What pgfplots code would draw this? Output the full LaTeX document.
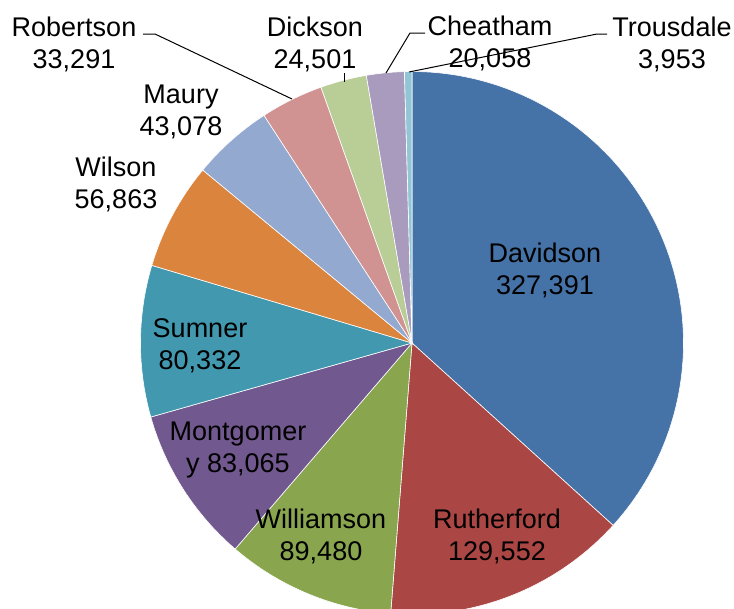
\documentclass[border=0pt]{standalone}
\usepackage{pgfplots}
\pgfplotsset{compat=1.18}
\usepackage{fontspec}
\setmainfont{Liberation Sans}
% data (population by county)
\def\vDav{327391}
\def\vRut{129552}
\def\vWil{89480}
\def\vMon{83065}
\def\vSum{80332}
\def\vWls{56863}
\def\vMau{43078}
\def\vRob{33291}
\def\vDic{24501}
\def\vChe{20058}
\def\vTro{3953}
\edef\T{\fpeval{\vDav+\vRut+\vWil+\vMon+\vSum+\vWls+\vMau+\vRob+\vDic+\vChe+\vTro}}
\edef\aA{90}
\edef\aB{\fpeval{\aA-360*\vDav/\T}}
\edef\aC{\fpeval{\aB-360*\vRut/\T}}
\edef\aD{\fpeval{\aC-360*\vWil/\T}}
\edef\aE{\fpeval{\aD-360*\vMon/\T}}
\edef\aF{\fpeval{\aE-360*\vSum/\T}}
\edef\aG{\fpeval{\aF-360*\vWls/\T}}
\edef\aH{\fpeval{\aG-360*\vMau/\T}}
\edef\aI{\fpeval{\aH-360*\vRob/\T}}
\edef\aJ{\fpeval{\aI-360*\vDic/\T}}
\edef\aK{\fpeval{\aJ-360*\vChe/\T}}
\edef\aL{\fpeval{\aK-360*\vTro/\T}}
\definecolor{cDav}{HTML}{4572A7}
\definecolor{cRut}{HTML}{AA4643}
\definecolor{cWil}{HTML}{89A54E}
\definecolor{cMon}{HTML}{71588F}
\definecolor{cSum}{HTML}{4198AF}
\definecolor{cWls}{HTML}{DB843D}
\definecolor{cMau}{HTML}{93A9CF}
\definecolor{cRob}{HTML}{D19392}
\definecolor{cDic}{HTML}{B9CD96}
\definecolor{cChe}{HTML}{A99BBD}
\definecolor{cTro}{HTML}{92C5D6}
\newcommand\slice[3]{\addplot[fill=#3, draw=white, line width=0.6bp, domain=#2:#1, samples=120, no markers] ({cos(x)},{sin(x)}) -- (axis cs:0,0) -- cycle;}
\newcommand\lab[4]{%
  \node[anchor=base, inner sep=0pt] at (#1bp,-#2bp) {#3};
  \node[anchor=base, inner sep=0pt] at (#1bp,-#2bp-32bp) {#4};}
\begin{document}
\begin{tikzpicture}
\path[use as bounding box] (0,0) rectangle (734bp,-609bp);
\clip (0,0) rectangle (734bp,-609bp);
\begin{axis}[
  at={(412bp,-343bp)}, anchor=center,
  scale only axis, width=543bp, height=543bp,
  xmin=-1, xmax=1, ymin=-1, ymax=1,
  hide axis, clip=false]
\slice{\aA}{\aB}{cDav}
\slice{\aB}{\aC}{cRut}
\slice{\aC}{\aD}{cWil}
\slice{\aD}{\aE}{cMon}
\slice{\aE}{\aF}{cSum}
\slice{\aF}{\aG}{cWls}
\slice{\aG}{\aH}{cMau}
\slice{\aH}{\aI}{cRob}
\slice{\aI}{\aJ}{cDic}
\slice{\aJ}{\aK}{cChe}
\slice{\aK}{\aL}{cTro}
\end{axis}
\fontsize{27bp}{32bp}\selectfont
% leader lines
\draw[line width=1bp] (143bp,-34bp) -- (155bp,-34bp) -- (292bp,-99bp);
\draw[line width=1bp] (344bp,-73bp) -- (344bp,-82bp);
\draw[line width=1bp] (425bp,-33bp) -- (410bp,-33bp) -- (386bp,-73bp);
\draw[line width=1bp] (607bp,-34bp) -- (597bp,-34bp) -- (409bp,-72bp);
% labels
\lab{545}{262}{Davidson}{327,391}
\lab{497}{528}{Rutherford}{129,552}
\lab{321}{528}{Williamson}{89,480}
\lab{238}{440}{Montgomer}{y 83,065}
\lab{200}{337}{Sumner}{80,332}
\lab{116}{176}{Wilson}{56,863}
\lab{181}{103}{Maury}{43,078}
\lab{74}{36}{Robertson}{33,291}
\lab{315}{36}{Dickson}{24,501}
\lab{490}{35}{Cheatham}{20,058}
\lab{672}{36}{Trousdale}{3,953}
\end{tikzpicture}
\end{document}
